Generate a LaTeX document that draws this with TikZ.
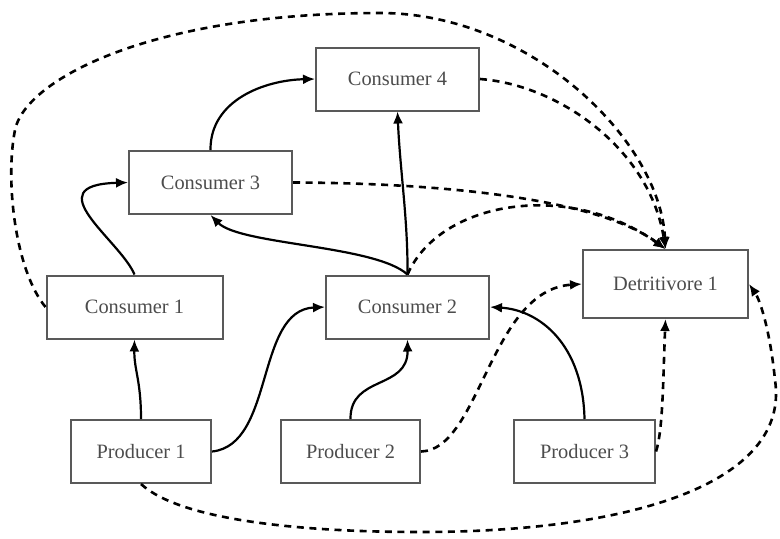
\documentclass[tikz,border=0pt]{standalone}
\usepackage{fontspec}
\setmainfont{Liberation Serif}
\usetikzlibrary{arrows.meta}

\begin{document}
\begin{tikzpicture}[x=0.5pt,y=-0.5pt,
	box/.style={draw=black!65, line width=1pt, minimum height=31.5pt, inner sep=0pt,
		text=black!70, font=\fontsize{10.2}{12}\selectfont},
	feed/.style={line width=1.1pt, -{Latex[length=6pt,width=5pt]}},
	decay/.style={feed, line width=1.3pt, dash pattern=on 3.5pt off 2.8pt}]
	\useasboundingbox (0,0) rectangle (780,538);

	% boxes
	\node[box, minimum width=81.5pt] (con4) at (397.5,79) {Consumer 4};
	\node[box, minimum width=81.5pt] (con3) at (210.5,182.5) {Consumer 3};
	\node[box, minimum width=88pt] (con1) at (134.5,307) {Consumer 1};
	\node[box, minimum width=81.5pt] (con2) at (407.5,307) {Consumer 2};
	\node[box, minimum width=82.5pt, minimum height=34pt] (det1) at (665.5,284) {Detritivore 1};
	\node[box, minimum width=70pt] (pro1) at (141,451.5) {Producer 1};
	\node[box, minimum width=69.5pt] (pro2) at (350.5,451.5) {Producer 2};
	\node[box, minimum width=70.5pt] (pro3) at (584.5,451.5) {Producer 3};

	% eaten by
	\draw[feed] (pro1.north) .. controls (141,380) and (134,370) .. (con1.south);
	\draw[feed] (pro1.east) .. controls (275,445) and (255,310) .. (con2.west);
	\draw[feed] (pro2.north) .. controls (350,375) and (408,390) .. (con2.south);
	\draw[feed] (pro3.north) .. controls (583,345) and (540,310) .. (con2.east);
	\draw[feed] (con1.north) .. controls (120,240) and (35,185) .. (con3.west);
	\draw[feed] (con3.north) .. controls (210,100) and (265,80) .. (con4.west);
	\draw[feed] (con2.north) .. controls (408,220) and (400,170) .. (con4.south);
	\draw[feed] (con2.north) .. controls (375,245) and (240,245) .. (con3.south);

	% dead matter
	\draw[decay] (con1.west) .. controls (15,270) and (5,180) .. (15,130)
		.. controls (25,80) and (150,13) .. (380,13)
		.. controls (530,13) and (660,140) .. (det1.north);
	\draw[decay] (con4.east) .. controls (560,85) and (650,150) .. (det1.north);
	\draw[decay] (con3.east) .. controls (450,183) and (600,200) .. (det1.north);
	\draw[decay] (con2.north) .. controls (440,200) and (570,180) .. (det1.north);
	\draw[decay] (pro2.east) .. controls (480,450) and (490,290) .. (det1.west);
	\draw[decay] (pro3.east) .. controls (663,430) and (663,380) .. (det1.south);
	\draw[decay] (pro1.south) .. controls (180,520) and (300,532) .. (420,532)
		.. controls (640,532) and (790,480) .. (775,380)
		.. controls (770,330) and (760,300) .. (det1.east);
\end{tikzpicture}
\end{document}
